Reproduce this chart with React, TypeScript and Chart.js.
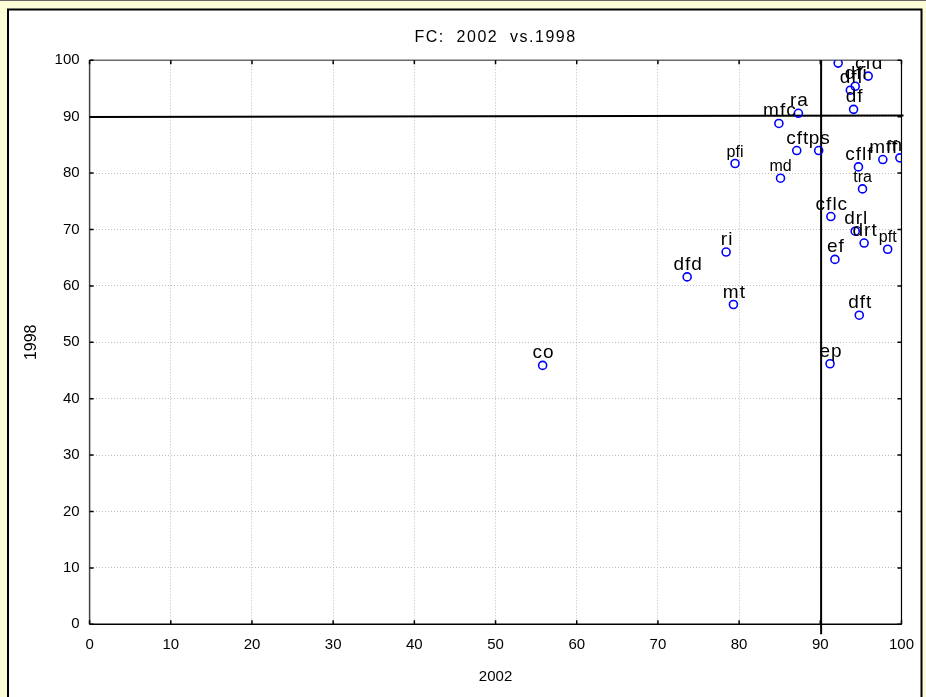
import React, { useEffect, useRef } from 'react';
import { Chart, registerables } from 'chart.js';

Chart.register(...registerables);

const FONT = '"Liberation Sans", Arial, sans-serif';
const BG = '#FBFBD6';

const names = ['co', 'mt', 'dft', 'ep', 'dfd', 'ri', 'pfi', 'md', 'mfc', 'ra', 'cft', 'ps', 'cflf', 'mff', 'mft', 'tra', 'cflc', 'drl', 'drt', 'pft', 'ef', 'cfr', 'cfd', 'dfi', 'dfl', 'df'];
const x2002 = [55.8, 79.3, 94.8, 91.2, 73.6, 78.4, 79.5, 85.1, 84.9, 87.3, 87.1, 89.8, 94.7, 97.7, 99.8, 95.2, 91.3, 94.3, 95.4, 98.3, 91.8, 92.2, 95.9, 94.3, 93.7, 94.1];
const y1998 = [45.9, 56.7, 54.8, 46.2, 61.6, 66.0, 81.7, 79.1, 88.8, 90.6, 84.0, 84.0, 81.1, 82.4, 82.7, 77.2, 72.3, 69.7, 67.6, 66.5, 64.7, 99.5, 97.2, 95.4, 94.7, 91.3];
const smallLabels = ['pfi', 'md', 'tra', 'pft'];

const titleText = 'FC:  2002  vs.1998';
const xTitle = '2002';
const yTitle = '1998';
const refX = 90.1;
const refYStart = 89.95;
const refYEnd = 90.2;

const decorPlugin = {
  id: 'decor',
  beforeDraw(chart: any) {
    const ctx = chart.ctx;
    const w = chart.width, h = chart.height;
    ctx.save();
    ctx.fillStyle = BG;
    ctx.fillRect(0, 0, w, h);
    ctx.fillStyle = '#ffffff';
    ctx.fillRect(8, 9.5, 913.5, h);
    ctx.strokeStyle = '#000';
    ctx.lineWidth = 2;
    ctx.strokeRect(8, 9.5, 913.5, h + 20);
    ctx.strokeStyle = '#666';
    ctx.lineWidth = 1;
    ctx.beginPath();
    ctx.moveTo(0, 0.5);
    ctx.lineTo(w, 0.5);
    ctx.stroke();
    ctx.restore();
  },
  beforeDatasetsDraw(chart: any) {
    const ctx = chart.ctx;
    const { left, right, top, bottom } = chart.chartArea;
    const xs = chart.scales.x, ys = chart.scales.y;
    ctx.save();
    ctx.lineWidth = 1.5;
    ctx.strokeStyle = '#6a6a6a';
    ctx.beginPath(); ctx.moveTo(left, top); ctx.lineTo(right, top); ctx.stroke();
    ctx.strokeStyle = '#444';
    ctx.beginPath(); ctx.moveTo(left, top); ctx.lineTo(left, bottom); ctx.stroke();
    ctx.strokeStyle = '#000';
    ctx.beginPath(); ctx.moveTo(left, bottom); ctx.lineTo(right, bottom); ctx.stroke();
    ctx.lineWidth = 1.2;
    ctx.beginPath(); ctx.moveTo(right, top); ctx.lineTo(right, bottom); ctx.stroke();
    ctx.lineWidth = 1.5;
    ctx.strokeStyle = '#000';
    ctx.beginPath();
    xs.ticks.forEach((t: any) => {
      const px = xs.getPixelForValue(t.value);
      ctx.moveTo(px, bottom); ctx.lineTo(px, bottom - 4);
      ctx.moveTo(px, top); ctx.lineTo(px, top + 4);
    });
    ys.ticks.forEach((t: any) => {
      const py = ys.getPixelForValue(t.value);
      ctx.moveTo(left, py); ctx.lineTo(left + 4, py);
      ctx.moveTo(right, py); ctx.lineTo(right - 4, py);
    });
    ctx.stroke();
    ctx.lineWidth = 2;
    ctx.strokeStyle = '#000';
    ctx.beginPath();
    ctx.moveTo(left, ys.getPixelForValue(refYStart));
    ctx.lineTo(right + 2, ys.getPixelForValue(refYEnd));
    ctx.stroke();
    const vx = xs.getPixelForValue(refX);
    ctx.beginPath();
    ctx.moveTo(vx, top);
    ctx.lineTo(vx, bottom + 10);
    ctx.stroke();
    ctx.restore();
  },
  afterDatasetsDraw(chart: any) {
    const ctx = chart.ctx;
    const { left, right, top, bottom } = chart.chartArea;
    const xs = chart.scales.x, ys = chart.scales.y;
    ctx.save();
    ctx.beginPath();
    ctx.rect(left, top, right - left, bottom - top);
    ctx.clip();
    ctx.fillStyle = '#000';
    ctx.textAlign = 'center';
    ctx.textBaseline = 'alphabetic';
    names.forEach((n, i) => {
      const px = xs.getPixelForValue(x2002[i]);
      const py = ys.getPixelForValue(y1998[i]);
      const small = smallLabels.includes(n);
      ctx.font = (small ? 16 : 19) + 'px ' + FONT;
      (ctx as any).letterSpacing = small ? '0px' : '1px';
      ctx.fillText(n, px + (small ? 0 : 1), py - 7);
    });
    ctx.restore();

    ctx.save();
    ctx.fillStyle = '#000';
    ctx.textAlign = 'center';
    ctx.textBaseline = 'middle';
    const cx = (left + right) / 2;
    ctx.font = '16px ' + FONT;
    (ctx as any).letterSpacing = '1.5px';
    ctx.fillText(titleText, cx, 38);
    (ctx as any).letterSpacing = '0px';
    ctx.font = '15px ' + FONT;
    ctx.fillText(xTitle, cx, 677);
    ctx.font = '16px ' + FONT;
    ctx.translate(32, (top + bottom) / 2);
    ctx.rotate(-Math.PI / 2);
    ctx.fillText(yTitle, 0, 0);
    ctx.restore();
  },
};

export default function App() {
  const ref = useRef<HTMLCanvasElement>(null);
  useEffect(() => {
    document.body.style.margin = '0';
    document.body.style.background = BG;
    const canvas = ref.current!;
    const points = x2002.map((x, i) => ({ x, y: y1998[i] }));
    const chart = new Chart(canvas, {
      type: 'scatter',
      data: {
        datasets: [
          {
            data: points,
            pointRadius: 4,
            pointHoverRadius: 4,
            pointBorderWidth: 1.6,
            pointBorderColor: '#0000FF',
            pointBackgroundColor: 'rgba(255,255,255,0)',
          },
        ],
      },
      options: {
        responsive: false,
        maintainAspectRatio: false,
        animation: false,
        events: [],
        layout: { padding: { left: 10, right: 23.4, top: 60.3, bottom: 10 } },
        plugins: { legend: { display: false }, tooltip: { enabled: false }, title: { display: false } },
        scales: {
          x: {
            type: 'linear',
            min: 0,
            max: 100,
            ticks: { stepSize: 10, padding: 12, color: '#000', font: { family: FONT, size: 15 }, maxRotation: 0 },
            grid: { color: '#bdbdbd', lineWidth: 1, drawTicks: false, tickLength: 0 },
            border: { display: false, dash: [1, 2] },
            afterFit: (s: any) => { s.height = 62.7; },
          },
          y: {
            type: 'linear',
            min: 0,
            max: 100,
            ticks: { stepSize: 10, padding: 10, color: '#000', font: { family: FONT, size: 15 } },
            grid: { color: '#bdbdbd', lineWidth: 1, drawTicks: false, tickLength: 0 },
            border: { display: false, dash: [1, 2] },
            afterFit: (s: any) => { s.width = 79.6; },
          },
        },
      },
      plugins: [decorPlugin],
    } as any);
    return () => chart.destroy();
  }, []);
  return <canvas ref={ref} width={926} height={697} style={{ display: 'block' }} />;
}
